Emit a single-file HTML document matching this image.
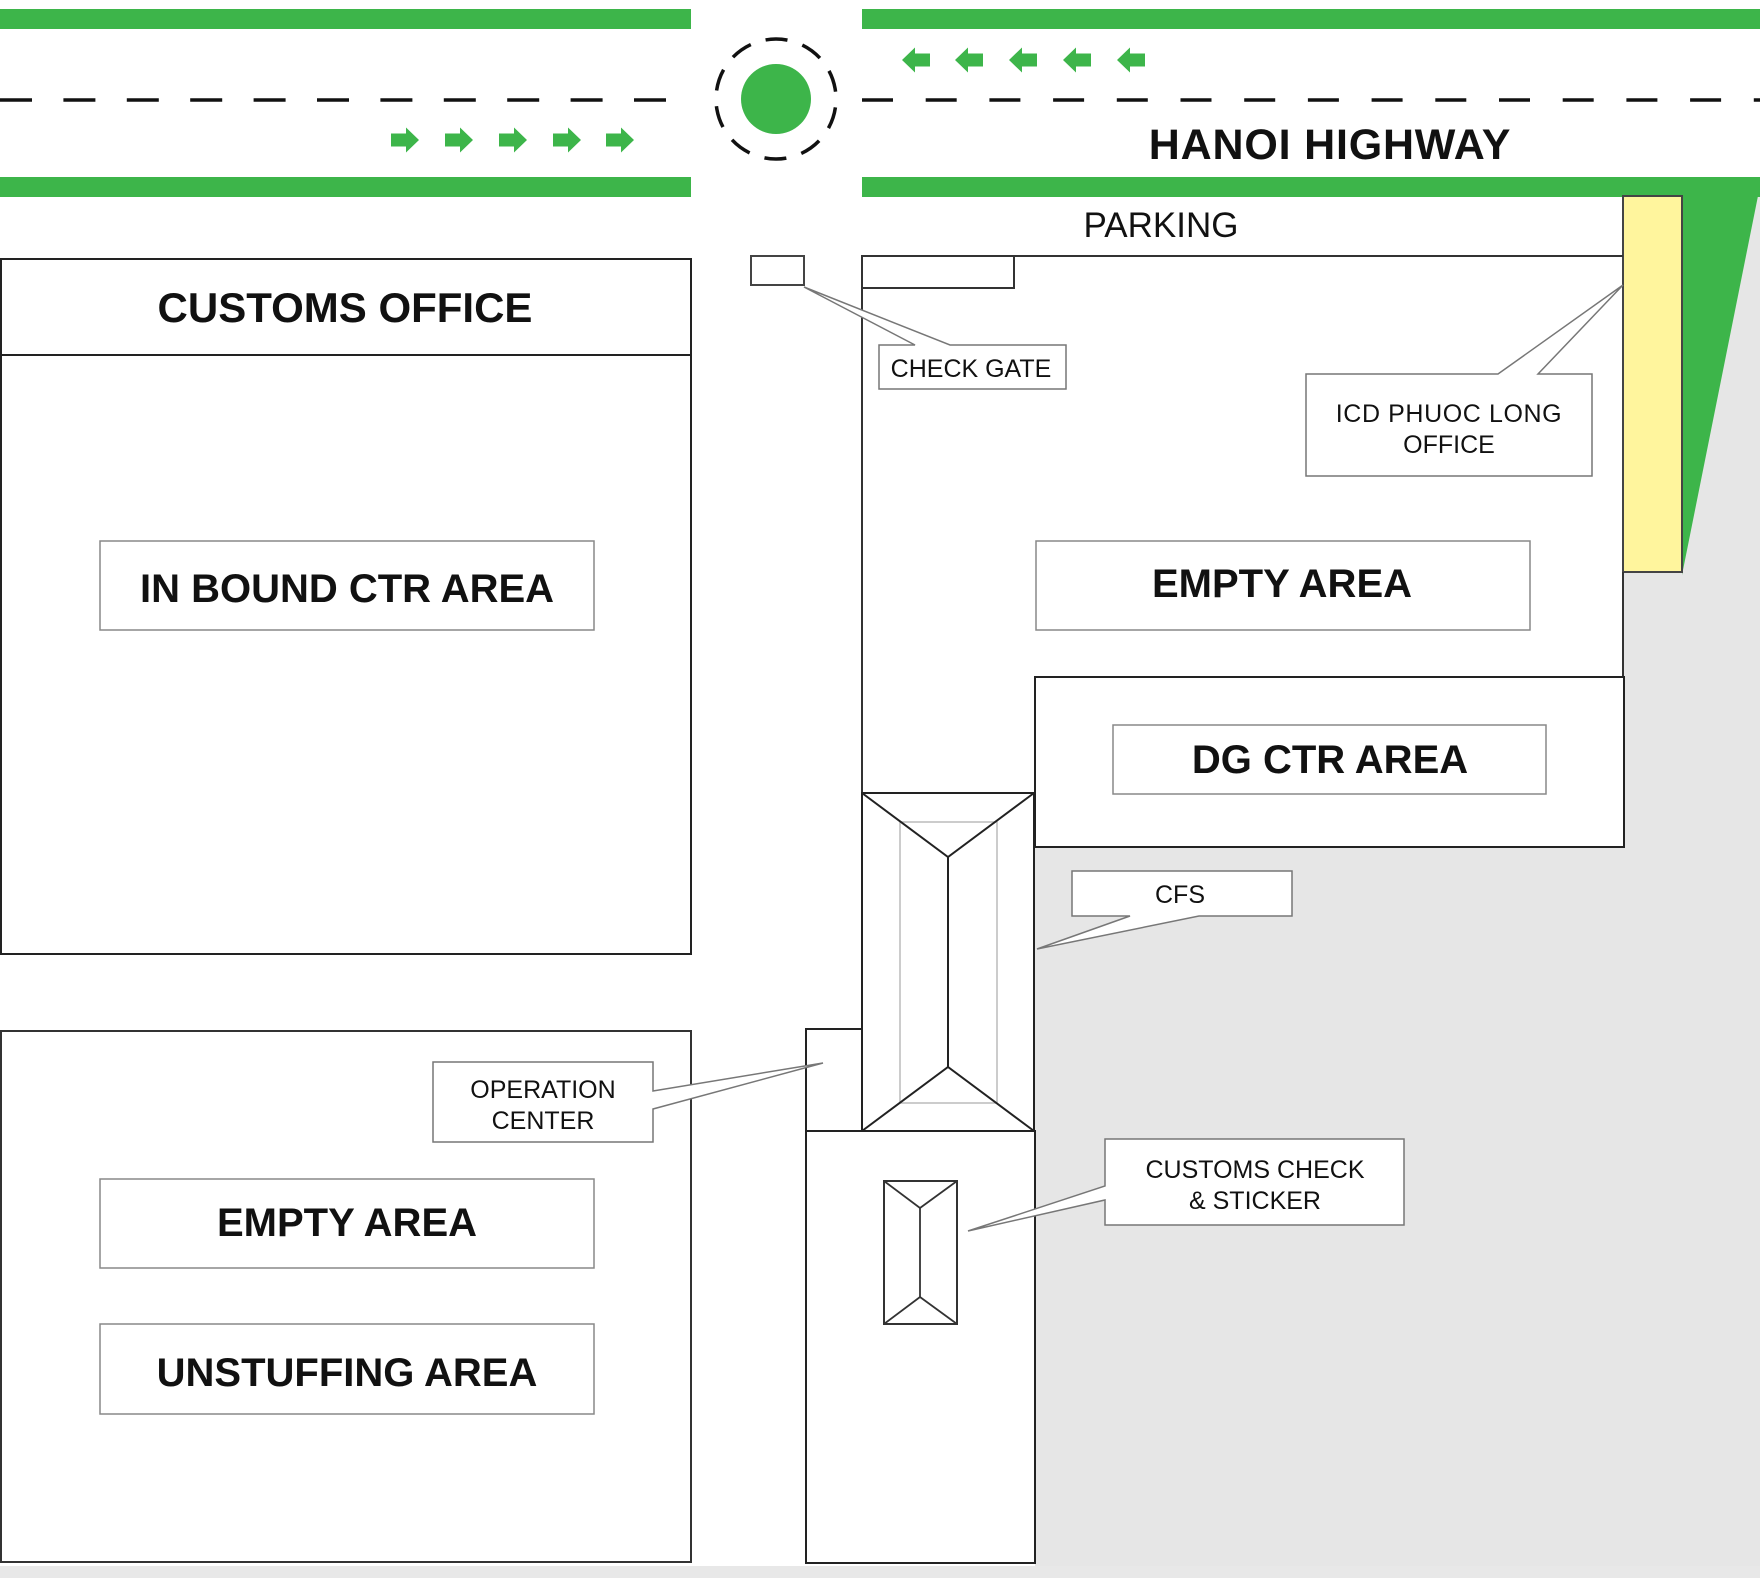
<!DOCTYPE html>
<html>
<head>
<meta charset="utf-8">
<style>
html,body{margin:0;padding:0;background:#fff;}
svg{display:block;}
text{font-family:"Liberation Sans",Arial,sans-serif;fill:#111;}
.b{font-weight:bold;}
</style>
</head>
<body>
<svg width="1760" height="1578" viewBox="0 0 1760 1578" xmlns="http://www.w3.org/2000/svg">
<defs>
<g id="ar">
<path d="M0,-6.5 L15,-6.5 L15,-12.5 L28,0 L15,12.5 L15,6.5 L0,6.5 Z" fill="#3db54a"/>
</g>
</defs>
<!-- gray background areas -->
<polygon points="1760,186 1682,572 1623,572 1623,847 1035,847 1035,1578 1760,1578" fill="#e6e6e6"/>
<rect x="0" y="1566" width="1760" height="12" fill="#e8e8e8"/>

<!-- road -->
<rect x="0" y="9" width="691" height="20" fill="#3db54a"/>
<rect x="862" y="9" width="898" height="20" fill="#3db54a"/>
<rect x="0" y="177" width="691" height="20" fill="#3db54a"/>
<rect x="862" y="177" width="898" height="20" fill="#3db54a"/>
<polygon points="1682,190 1760,190 1760,186 1682,575" fill="#3db54a"/>
<line x1="0" y1="100" x2="668" y2="100" stroke="#111" stroke-width="3.5" stroke-dasharray="32 31.4"/>
<line x1="862" y1="100" x2="1760" y2="100" stroke="#111" stroke-width="3.5" stroke-dasharray="31 32.7"/>

<!-- roundabout -->
<circle cx="776" cy="99" r="35" fill="#3db54a"/>
<circle cx="776" cy="99" r="60" fill="none" stroke="#111" stroke-width="3.5" stroke-dasharray="22 15.7" transform="rotate(-100 776 99)"/>

<!-- arrows right -->
<use href="#ar" x="391" y="140"/>
<use href="#ar" x="445" y="140"/>
<use href="#ar" x="499" y="140"/>
<use href="#ar" x="553" y="140"/>
<use href="#ar" x="606" y="140"/>
<!-- arrows left -->
<g transform="translate(930,60) scale(-1,1)"><use href="#ar"/></g>
<g transform="translate(983,60) scale(-1,1)"><use href="#ar"/></g>
<g transform="translate(1037,60) scale(-1,1)"><use href="#ar"/></g>
<g transform="translate(1091,60) scale(-1,1)"><use href="#ar"/></g>
<g transform="translate(1145,60) scale(-1,1)"><use href="#ar"/></g>

<text x="1330" y="159" font-size="43" class="b" text-anchor="middle" letter-spacing="0.8">HANOI HIGHWAY</text>
<text x="1161" y="237" font-size="35" text-anchor="middle">PARKING</text>

<!-- yellow -->
<rect x="1623" y="196" width="59" height="376" fill="#fff59d" stroke="#444" stroke-width="2"/>

<!-- customs office block -->
<rect x="1" y="259" width="690" height="695" fill="#fff" stroke="#222" stroke-width="2"/>
<line x1="1" y1="355" x2="691" y2="355" stroke="#222" stroke-width="2"/>
<text x="345" y="322" font-size="42" class="b" text-anchor="middle">CUSTOMS OFFICE</text>
<rect x="100" y="541" width="494" height="89" fill="#fff" stroke="#888" stroke-width="1.5"/>
<text x="347" y="602" font-size="40" class="b" text-anchor="middle">IN BOUND CTR AREA</text>

<!-- lower-left block -->
<rect x="1" y="1031" width="690" height="531" fill="#fff" stroke="#333" stroke-width="2"/>
<rect x="100" y="1179" width="494" height="89" fill="#fff" stroke="#888" stroke-width="1.5"/>
<text x="347" y="1236" font-size="40" class="b" text-anchor="middle">EMPTY AREA</text>
<rect x="100" y="1324" width="494" height="90" fill="#fff" stroke="#888" stroke-width="1.5"/>
<text x="347" y="1386" font-size="40" class="b" text-anchor="middle">UNSTUFFING AREA</text>

<!-- right complex -->
<polyline points="862,793 862,256 1623,256" fill="none" stroke="#333" stroke-width="2"/>
<line x1="1623" y1="572" x2="1623" y2="677" stroke="#333" stroke-width="2"/>
<rect x="862" y="256" width="152" height="32" fill="#fff" stroke="#333" stroke-width="2"/>
<rect x="751" y="256" width="53" height="29" fill="#fff" stroke="#444" stroke-width="2"/>

<rect x="1036" y="541" width="494" height="89" fill="#fff" stroke="#888" stroke-width="1.5"/>
<text x="1282" y="597" font-size="40" class="b" text-anchor="middle">EMPTY AREA</text>

<rect x="1035" y="677" width="589" height="170" fill="#fff" stroke="#222" stroke-width="2"/>
<rect x="1113" y="725" width="433" height="69" fill="#fff" stroke="#888" stroke-width="1.5"/>
<text x="1330" y="773" font-size="40" class="b" text-anchor="middle">DG CTR AREA</text>

<!-- CFS building -->
<rect x="862" y="793" width="172" height="338" fill="#fff" stroke="#222" stroke-width="2"/>
<rect x="900" y="822" width="97" height="281" fill="none" stroke="#bbb" stroke-width="1.5"/>
<polyline points="862,793 948,857 1034,793" fill="none" stroke="#222" stroke-width="2"/>
<line x1="948" y1="857" x2="948" y2="1067" stroke="#222" stroke-width="2"/>
<polyline points="862,1131 948,1067 1034,1131" fill="none" stroke="#222" stroke-width="2"/>

<!-- operation box + lower center -->
<rect x="806" y="1029" width="56" height="102" fill="#fff" stroke="#222" stroke-width="2"/>
<rect x="806" y="1131" width="229" height="432" fill="#fff" stroke="#222" stroke-width="2"/>
<rect x="884" y="1181" width="73" height="143" fill="#fff" stroke="#333" stroke-width="2"/>
<polyline points="884,1181 920,1208 957,1181" fill="none" stroke="#333" stroke-width="1.8"/>
<line x1="920" y1="1208" x2="920" y2="1297" stroke="#333" stroke-width="1.8"/>
<polyline points="884,1324 920,1297 957,1324" fill="none" stroke="#333" stroke-width="1.8"/>

<!-- callouts -->
<path d="M879,345 L915,345 L804,287 L950,345 L1066,345 L1066,389 L879,389 Z" fill="#fff" stroke="#777" stroke-width="1.5"/>
<text x="971" y="377" font-size="25" text-anchor="middle">CHECK GATE</text>

<path d="M1306,374 L1498,374 L1623,285 L1538,374 L1592,374 L1592,476 L1306,476 Z" fill="#fff" stroke="#777" stroke-width="1.5"/>
<text x="1449" y="422" font-size="25" text-anchor="middle" letter-spacing="0.6">ICD PHUOC LONG</text>
<text x="1449" y="453" font-size="25" text-anchor="middle">OFFICE</text>

<path d="M1072,871 L1292,871 L1292,916 L1199,916 L1037,949 L1130,916 L1072,916 Z" fill="#fff" stroke="#777" stroke-width="1.5"/>
<text x="1180" y="903" font-size="25" text-anchor="middle">CFS</text>

<path d="M433,1062 L653,1062 L653,1091 L823,1063 L653,1109 L653,1142 L433,1142 Z" fill="#fff" stroke="#777" stroke-width="1.5"/>
<text x="543" y="1098" font-size="25" text-anchor="middle">OPERATION</text>
<text x="543" y="1129" font-size="25" text-anchor="middle">CENTER</text>

<path d="M1105,1139 L1404,1139 L1404,1225 L1105,1225 L1105,1200 L968,1231 L1105,1186 Z" fill="#fff" stroke="#777" stroke-width="1.5"/>
<text x="1255" y="1178" font-size="25" text-anchor="middle">CUSTOMS CHECK</text>
<text x="1255" y="1209" font-size="25" text-anchor="middle">&amp; STICKER</text>
</svg>
</body>
</html>
